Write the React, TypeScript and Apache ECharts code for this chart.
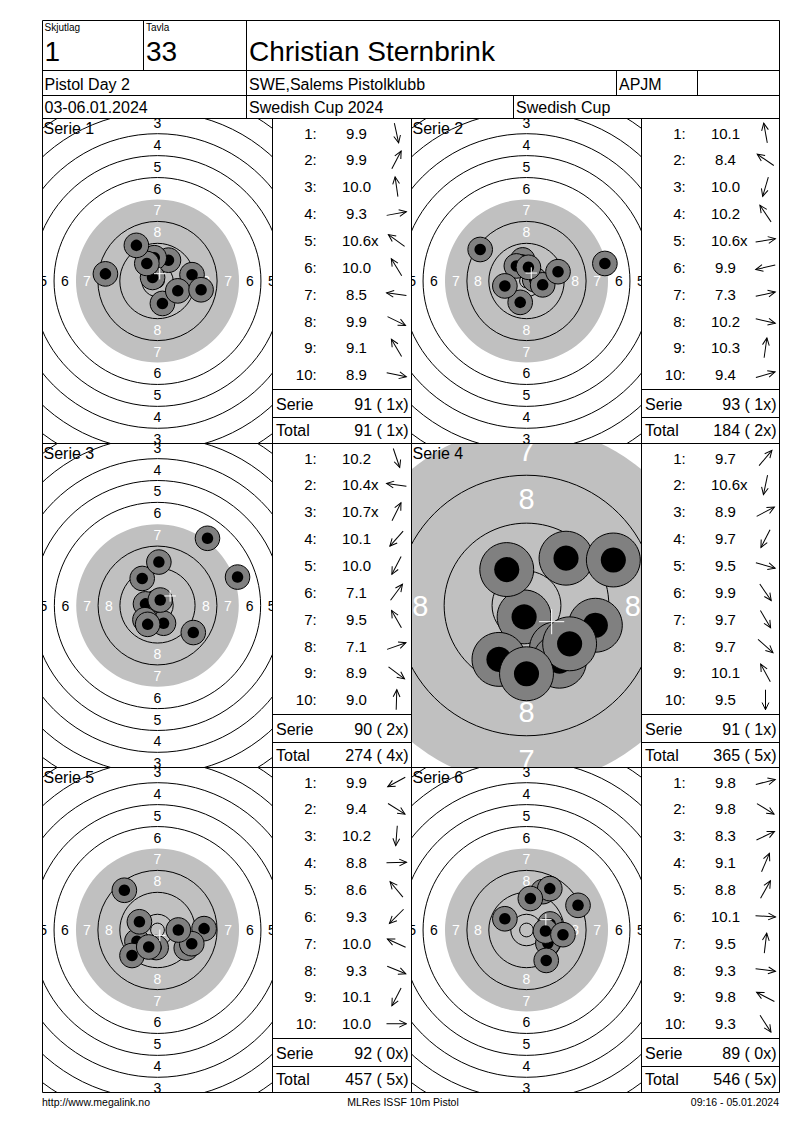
import React, { useEffect, useRef } from "react";
import * as echarts from "echarts";

const FONT = '"Liberation Sans", Arial, Helvetica, sans-serif';

// ---------- header / footer texts ----------
const relayLabel = "Skjutlag";
const relayValue = "1";
const laneLabel = "Tavla";
const laneValue = "33";
const shooterName = "Christian Sternbrink";
const eventName = "Pistol Day 2";
const clubName = "SWE,Salems Pistolklubb";
const classCode = "APJM";
const eventDates = "03-06.01.2024";
const competitionName = "Swedish Cup 2024";
const cupName = "Swedish Cup";
const footerLeft = "http://www.megalink.no";
const footerCenter = "MLRes ISSF 10m Pistol";
const footerRight = "09:16 - 05.01.2024";

const serieNames = ["Serie 1", "Serie 2", "Serie 3", "Serie 4", "Serie 5", "Serie 6"];

// ---------- shots: position in mm from target centre (x right, y up) ----------
const serie1X = [1.8, 4.0, -1.2, 12.6, -1.8, -3.9, -19.0, 7.4, -7.7, 15.9];
const serie1Y = [-8.2, 7.6, 8.5, 2.3, 1.3, 6.4, 2.6, -3.6, 13.0, -3.2];
const serie1Scores = [9.9, 9.9, 10.0, 9.3, 10.6, 10.0, 8.5, 9.9, 9.1, 8.9];
const serie1InnerTens = [5];

const serie2X = [-1.4, -16.9, -2.3, -3.7, 3.0, -7.9, 28.6, 5.9, 0.7, 11.5];
const serie2Y = [7.7, 11.5, -7.8, 5.5, 0.5, -1.8, 6.4, -1.4, 5.0, 3.4];
const serie2Scores = [10.1, 8.4, 10.0, 10.2, 10.6, 9.9, 7.3, 10.2, 10.3, 9.4];
const serie2InnerTens = [5];

const serie3X = [2.2, -4.4, 1.0, -4.6, -3.6, 18.3, -5.6, 29.3, 13.1, 0.5];
const serie3Y = [-6.5, 0.6, 2.0, -5.2, -6.9, 24.6, 9.9, 10.4, -9.9, 15.9];
const serie3Scores = [10.2, 10.4, 10.7, 10.1, 10.0, 7.1, 9.5, 7.1, 8.9, 9.0];
const serie3InnerTens = [2, 3];

const serie4X = [6.6, -0.4, 14.5, -4.6, 11.5, 5.0, 5.5, 7.2, -3.3, 0.0];
const serie4Y = [7.9, -1.9, 7.6, -9.0, -3.3, -7.2, -9.3, -6.4, 6.0, -11.4];
const serie4Scores = [9.7, 10.6, 8.9, 9.7, 9.5, 9.9, 9.7, 9.7, 10.1, 9.5];
const serie4InnerTens = [2];

const serie5X = [-7.5, 10.5, -0.5, 17.0, -12.1, -9.3, -6.6, 12.5, -3.2, 7.6];
const serie5Y = [-4.1, -6.6, -6.4, 0.5, 14.5, -9.3, 3.0, -5.0, -6.2, 0.0];
const serie5Scores = [9.9, 9.4, 10.2, 8.8, 8.6, 9.3, 10.0, 9.3, 10.1, 10.0];
const serie5InnerTens: number[] = [];

const serie6X = [8.6, 7.8, 18.8, 6.0, 8.5, 6.9, 1.4, 13.3, -7.9, 7.2];
const serie6Y = [2.2, -4.8, 9.0, 14.0, 15.1, -0.4, 11.5, -1.7, 4.1, -11.1];
const serie6Scores = [9.8, 9.8, 8.3, 9.1, 8.8, 10.1, 9.5, 9.3, 9.8, 9.3];
const serie6InnerTens: number[] = [];

// ---------- ISSF 10 m pistol target (mm) ----------
const ringRadii = [77.75, 69.75, 61.75, 53.75, 45.75, 37.75, 21.75, 13.75, 5.75, 2.5];
const blackRadius = 29.75;
const ringNumbers = [1, 2, 3, 4, 5, 6, 7, 8];
const shotOuterRadius = 4.5;
const shotInnerRadius = 2.1;
const crossHalf = 2.1;

// ---------- layout ----------
const colX = [42.5, 272.5, 411.5, 641.5, 779.5];
const rowY = [118.5, 443.5, 767.5, 1092.5];
const viewHalfHeight = [59.3, 59.3, 59.3, 27.05, 59.3, 59.3];
const labelFontSize = [14, 14, 14, 29, 14, 14];

const seriesList = [
  { x: serie1X, y: serie1Y, s: serie1Scores, inner: serie1InnerTens },
  { x: serie2X, y: serie2Y, s: serie2Scores, inner: serie2InnerTens },
  { x: serie3X, y: serie3Y, s: serie3Scores, inner: serie3InnerTens },
  { x: serie4X, y: serie4Y, s: serie4Scores, inner: serie4InnerTens },
  { x: serie5X, y: serie5Y, s: serie5Scores, inner: serie5InnerTens },
  { x: serie6X, y: serie6Y, s: serie6Scores, inner: serie6InnerTens },
];

function buildOption() {
  const elements: any[] = [];
  const txt = (x: number, y: number, text: string, size: number, align = "left", fill = "#000") =>
    elements.push({
      type: "text",
      x,
      y,
      z: 100,
      silent: true,
      style: { text, fill, fontSize: size, fontFamily: FONT, align, verticalAlign: "middle" },
    });
  const ln = (x1: number, y1: number, x2: number, y2: number) =>
    elements.push({
      type: "line",
      z: 100,
      silent: true,
      shape: { x1, y1, x2, y2 },
      style: { stroke: "#000", lineWidth: 1 },
    });

  const L = colX[0];
  const R = colX[4];
  const T = 20.5;
  const B = rowY[3];
  // outer frame
  ln(L, T, R, T);
  ln(L, B, R, B);
  ln(L, T, L, B);
  ln(R, T, R, B);
  // header rows
  ln(L, 70.5, R, 70.5);
  ln(L, 95.5, R, 95.5);
  ln(L, rowY[0], R, rowY[0]);
  ln(143.5, T, 143.5, 70.5);
  ln(246.5, T, 246.5, rowY[0]);
  ln(616.5, 70.5, 616.5, 95.5);
  ln(697.5, 70.5, 697.5, 95.5);
  ln(513.5, 95.5, 513.5, rowY[0]);
  // panel grid
  ln(L, rowY[1], R, rowY[1]);
  ln(L, rowY[2], R, rowY[2]);
  [colX[1], colX[2], colX[3]].forEach((x) => ln(x, rowY[0], x, B));

  // header texts
  txt(44.5, 27, relayLabel, 10);
  txt(146, 27, laneLabel, 10);
  txt(44.5, 51, relayValue, 28);
  txt(146, 51, laneValue, 28);
  txt(249, 51, shooterName, 28);
  txt(44.5, 84, eventName, 16);
  txt(249, 84, clubName, 16);
  txt(619, 84, classCode, 16);
  txt(44.5, 107.5, eventDates, 16);
  txt(249, 107.5, competitionName, 16);
  txt(516, 107.5, cupName, 16);

  // footer
  txt(42, 1102, footerLeft, 10.5);
  txt(403, 1102, footerCenter, 10.5, "center");
  txt(779, 1102, footerRight, 10.5, "right");

  const grids: any[] = [];
  const xAxes: any[] = [];
  const yAxes: any[] = [];
  const series: any[] = [];

  let totalSum = 0;
  let totalX = 0;

  seriesList.forEach((sd, k) => {
    const col = k % 2;
    const row = Math.floor(k / 2);
    const tx = colX[col * 2];
    const tw = colX[col * 2 + 1] - tx;
    const lx = colX[col * 2 + 1];
    const lw = colX[col * 2 + 2] - lx;
    const ty = rowY[row];
    const th = rowY[row + 1] - ty;

    grids.push({ left: tx, top: ty, width: tw, height: th, containLabel: false, outerBoundsMode: "none" });
    const hh = viewHalfHeight[k];
    const hw = (hh * tw) / th;
    xAxes.push({ type: "value", gridIndex: k, min: -hw, max: hw, show: false });
    yAxes.push({ type: "value", gridIndex: k, min: -hh, max: hh, show: false });

    const common = {
      type: "custom",
      coordinateSystem: "cartesian2d",
      xAxisIndex: k,
      yAxisIndex: k,
      clip: true,
      silent: true,
      animation: false,
    };

    // grey aiming area
    series.push({
      ...common,
      z: 1,
      data: [[0, 0, blackRadius]],
      renderItem: (_p: any, api: any) => {
        const c = api.coord([api.value(0), api.value(1)]);
        const r = api.size([api.value(2), 0])[0];
        return { type: "circle", shape: { cx: c[0], cy: c[1], r }, style: { fill: "#c0c0c0", stroke: "none" } };
      },
    });
    // rings
    series.push({
      ...common,
      z: 2,
      data: ringRadii.map((r) => [0, 0, r]),
      renderItem: (_p: any, api: any) => {
        const c = api.coord([api.value(0), api.value(1)]);
        const r = api.size([api.value(2), 0])[0];
        return {
          type: "circle",
          shape: { cx: c[0], cy: c[1], r },
          style: { fill: "none", stroke: "#000", lineWidth: 1 },
        };
      },
    });
    // ring numbers (only those whose centre falls inside the visible window)
    const labelData: number[][] = [];
    ringNumbers.forEach((n) => {
      const rr = (10 - n) * 8 + 1.75;
      if (rr <= hh) labelData.push([0, rr, n], [0, -rr, n]);
      if (rr <= hw) labelData.push([-rr, 0, n], [rr, 0, n]);
    });
    const fs = labelFontSize[k];
    series.push({
      ...common,
      z: 3,
      data: labelData,
      renderItem: (_p: any, api: any) => {
        const c = api.coord([api.value(0), api.value(1)]);
        const n = api.value(2);
        return {
          type: "text",
          x: c[0],
          y: c[1],
          style: {
            text: String(n),
            fill: n >= 7 ? "#ffffff" : "#000000",
            fontSize: fs,
            fontFamily: FONT,
            align: "center",
            verticalAlign: "middle",
          },
        };
      },
    });
    // shots
    series.push({
      ...common,
      z: 4,
      data: sd.x.map((x, i) => [x, sd.y[i], i]),
      renderItem: (_p: any, api: any) => {
        const c = api.coord([api.value(0), api.value(1)]);
        const ro = api.size([shotOuterRadius, 0])[0];
        const ri = api.size([shotInnerRadius, 0])[0];
        return {
          type: "group",
          children: [
            { type: "circle", shape: { cx: c[0], cy: c[1], r: ro }, style: { fill: "#808080", stroke: "#000", lineWidth: 1 } },
            { type: "circle", shape: { cx: c[0], cy: c[1], r: ri }, style: { fill: "#000", stroke: "none" } },
          ],
        };
      },
    });
    // mean point of impact cross
    const mx = sd.x.reduce((a, b) => a + b, 0) / sd.x.length;
    const my = sd.y.reduce((a, b) => a + b, 0) / sd.y.length;
    series.push({
      ...common,
      z: 5,
      data: [[mx, my]],
      renderItem: (_p: any, api: any) => {
        const c = api.coord([api.value(0), api.value(1)]);
        const h = api.size([crossHalf, 0])[0];
        return {
          type: "group",
          children: [
            { type: "line", shape: { x1: c[0] - h, y1: c[1], x2: c[0] + h, y2: c[1] }, style: { stroke: "#fff", lineWidth: 1 } },
            { type: "line", shape: { x1: c[0], y1: c[1] - h, x2: c[0], y2: c[1] + h }, style: { stroke: "#fff", lineWidth: 1 } },
          ],
        };
      },
    });

    // serie title on target
    txt(tx + 1, ty + 9.5, serieNames[k], 16);

    // shot list
    let sum = 0;
    let xc = 0;
    sd.s.forEach((score, i) => {
      const y = ty + 14.5 + i * 26.86;
      const isInner = sd.inner.indexOf(i + 1) >= 0;
      sum += Math.floor(score + 1e-9);
      if (isInner) xc += 1;
      txt(lx + 44.2, y, `${i + 1}:`, 15, "right");
      const numText = score.toFixed(1);
      const numW = ((numText.length - 1) * 0.556 + 0.278) * 15;
      txt(lx + 84 - numW / 2, y, numText + (isInner ? "x" : ""), 15, "left");
      // direction arrow (direction of the shot from the centre)
      const ang = Math.atan2(sd.y[i], sd.x[i]);
      elements.push({
        type: "group",
        x: lx + 124,
        y,
        rotation: ang,
        z: 100,
        silent: true,
        children: [
          { type: "line", shape: { x1: -10, y1: 0, x2: 10, y2: 0 }, style: { stroke: "#000", lineWidth: 1 } },
          {
            type: "polyline",
            shape: { points: [[2.8, -3.4], [10, 0], [2.8, 3.4]] },
            style: { stroke: "#000", lineWidth: 1, fill: "none" },
          },
        ],
      });
    });
    totalSum += sum;
    totalX += xc;
    ln(lx, ty + 271, lx + lw, ty + 271);
    ln(lx, ty + 299, lx + lw, ty + 299);
    txt(lx + 3.5, ty + 285.5, "Serie", 16);
    txt(lx + lw - 3, ty + 285.5, `${sum} (${String(xc).padStart(2, " ")}x)`, 16, "right");
    txt(lx + 3.5, ty + 311.5, "Total", 16);
    txt(lx + lw - 3, ty + 311.5, `${totalSum} (${String(totalX).padStart(2, " ")}x)`, 16, "right");
  });

  return {
    animation: false,
    backgroundColor: "#ffffff",
    grid: grids,
    xAxis: xAxes,
    yAxis: yAxes,
    series,
    graphic: { elements },
  };
}

export default function App() {
  const ref = useRef<HTMLDivElement>(null);
  useEffect(() => {
    if (!ref.current) return;
    const chart = echarts.init(ref.current, null, { renderer: "svg" });
    chart.setOption(buildOption() as any);
    return () => chart.dispose();
  }, []);
  return (
    <div
      ref={ref}
      style={{ position: "absolute", left: 0, top: 0, width: 800, height: 1130, background: "#fff" }}
    />
  );
}
